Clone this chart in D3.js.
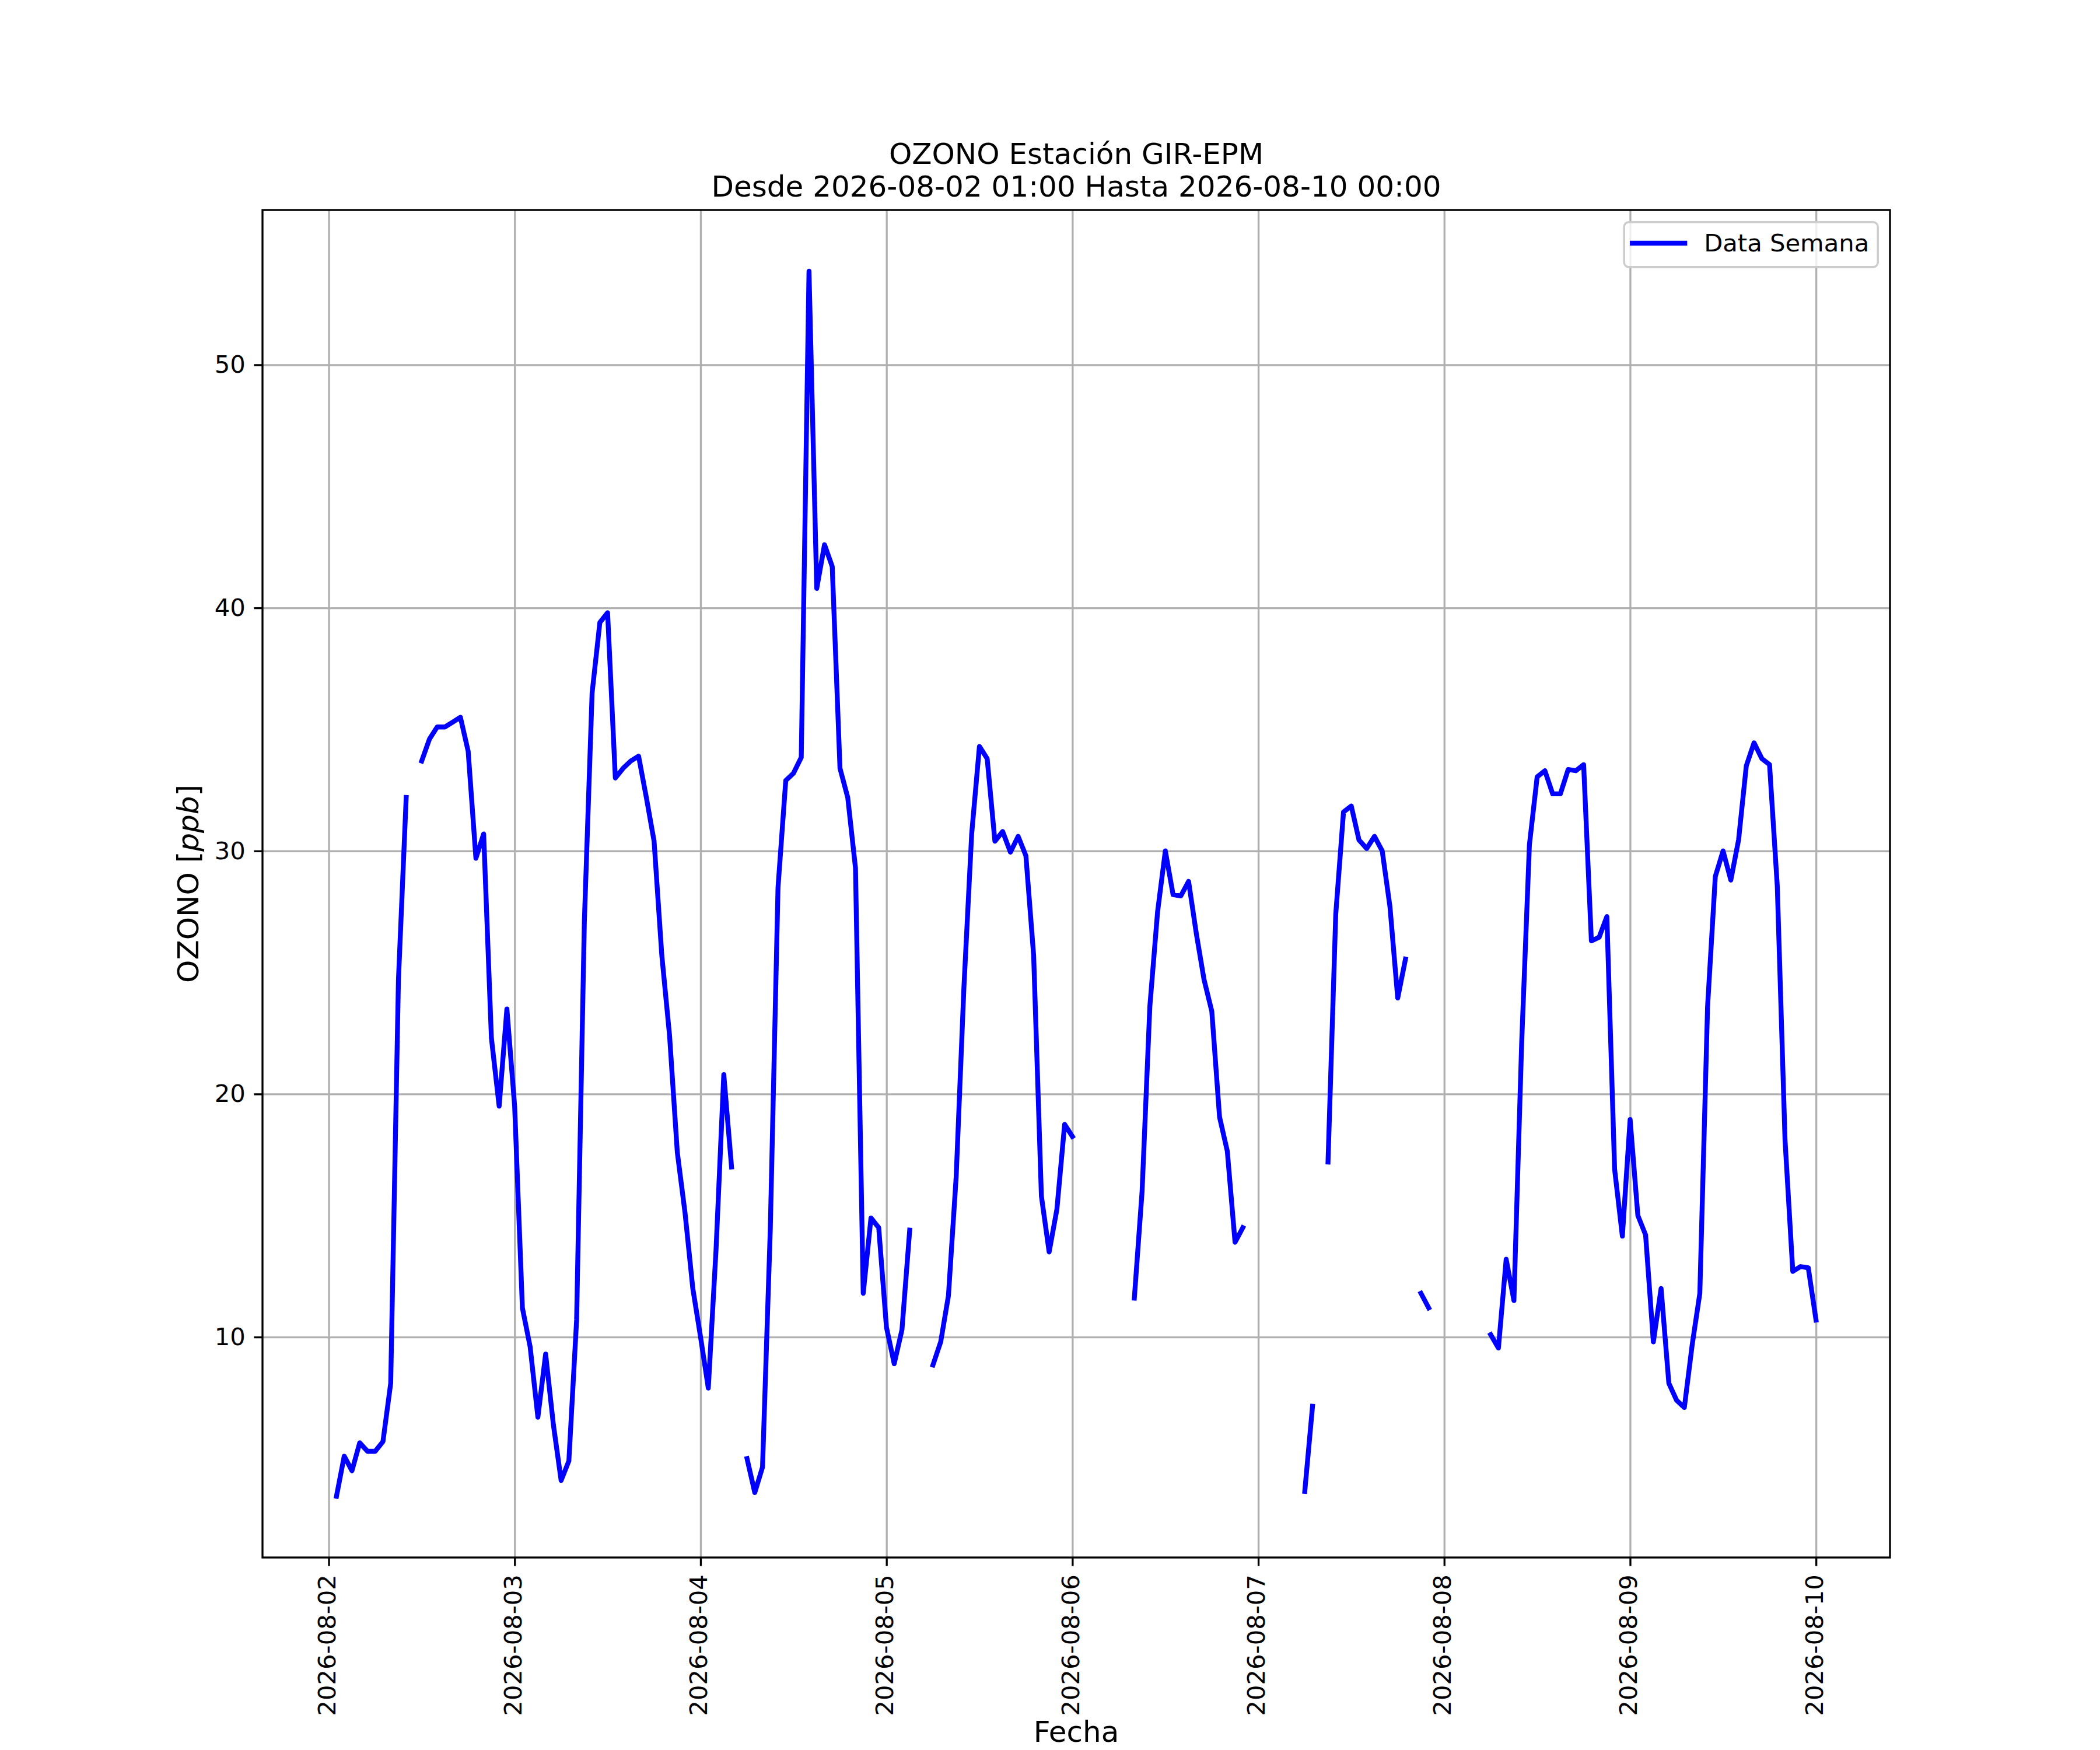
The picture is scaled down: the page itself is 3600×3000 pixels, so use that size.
<!DOCTYPE html>
<html>
<head>
  <meta charset="utf-8">
  <title>OZONO Estación GIR-EPM</title>
  <style>
  body {
    margin: 0;
    background: #fff;
  }
  svg text {
    font-family: "DejaVu Sans", sans-serif;
    fill: #000;
  }
  .grid line {
    stroke: #b0b0b0;
    stroke-width: 3.33px;
  }
  .grid path {
    display: none;
  }
  .line {
    fill: none;
    stroke: #0000ff;
    stroke-width: 8.33px;
    stroke-linejoin: round;
    stroke-linecap: square;
  }
  .axis path {
    display: none;
  }
  .axis line {
    stroke: #000;
    stroke-width: 3.33px;
  }
  .axis text {
    font-size: 41.7px;
  }
  .spine {
    fill: none;
    stroke: #000;
    stroke-width: 3.33px;
  }
  </style>
</head>
<body>
  <div id="chart"></div>
  <script src="https://cdn.jsdelivr.net/npm/d3@7/dist/d3.min.js"></script>
  <script>
  //hourly readings, first one at 2026-08-02 01:00, null = no data
  var startHour = new Date(2026, 7, 2, 1);
  var ozono = [
    3.45, 5.1, 4.5, 5.65, 5.3, 5.3, 5.7, 8.1, 24.7, 32.2, null, 33.7, 34.6, 35.1, 35.1, 35.3, 35.5, 34.1, 29.7, 30.7, 22.3, 19.5, 23.5, 19.5,
    11.2, 9.6, 6.7, 9.3, 6.4, 4.1, 4.9, 10.7, 27.1, 36.5, 39.4, 39.8, 33.0, 33.4, 33.7, 33.9, 32.2, 30.4, 25.7, 22.4, 17.6, 15.1, 12.0, 10.0,
    7.9, 13.6, 20.8, 17.0, null, 5.0, 3.6, 4.65, 14.4, 28.5, 32.9, 33.2, 33.85, 53.85, 40.8, 42.6, 41.7, 33.4, 32.2, 29.3, 11.8, 14.9, 14.5, 10.4,
    8.9, 10.3, 14.4, null, null, 8.85, 9.8, 11.7, 16.6, 24.4, 30.7, 34.3, 33.8, 30.4, 30.8, 29.95, 30.6, 29.8, 25.7, 15.8, 13.5, 15.25, 18.75, 18.25,
    null, null, null, null, null, null, null, 11.6, 16.0, 23.6, 27.5, 30.0, 28.2, 28.15, 28.75, 26.6, 24.7, 23.4, 19.05, 17.65, 13.9, 14.5, null, null,
    null, null, null, null, null, 3.65, 7.15, null, 17.2, 27.4, 31.6, 31.85, 30.45, 30.1, 30.6, 30.0, 27.7, 23.95, 25.55, null, 11.8, 11.2, null, null,
    null, null, null, null, null, 10.1, 9.55, 13.2, 11.5, 22.1, 30.25, 33.05, 33.3, 32.35, 32.35, 33.35, 33.3, 33.55, 26.3, 26.45, 27.3, 16.9, 14.15, 18.95,
    15.0, 14.2, 9.8, 12.0, 8.1, 7.4, 7.1, 9.65, 11.8, 23.6, 28.95, 30.0, 28.8, 30.45, 33.5, 34.45, 33.8, 33.55, 28.55, 18.1, 12.7, 12.9, 12.85, 10.7
  ];
  var xTickLabels = ["2026-08-02", "2026-08-03", "2026-08-04", "2026-08-05", "2026-08-06",
    "2026-08-07", "2026-08-08", "2026-08-09", "2026-08-10"];
  var yTicks = [10, 20, 30, 40, 50];
  var seriesName = "Data Semana";

  //figure and axes box (matplotlib style, 300 dpi)
  var figW = 3600, figH = 3000;
  var margin = {left: 450, right: 360, top: 360, bottom: 330};
  var width = figW - margin.left - margin.right;
  var height = figH - margin.top - margin.bottom;
  var tickLen = 14.6, tickPad = 14.6;

  var parseDay = d3.timeParse("%Y-%m-%d");
  var fmtDay = d3.timeFormat("%Y-%m-%d");

  var dataset = ozono.map(function(v, i) {
    return {date: d3.timeHour.offset(startHour, i), value: v};
  });

  var svg = d3.select("#chart")
  .append("svg")
  .attr("width", figW)
  .attr("height", figH);

  var g = svg.append("g")
  .attr("transform", "translate(" + margin.left + "," + margin.top + ")");

  //scales with 5% padding like matplotlib autoscale
  var tExt = d3.extent(dataset, function(d) { return d.date; });
  var tPad = (tExt[1] - tExt[0]) * 0.05;
  var x = d3.scaleTime()
  .domain([new Date(+tExt[0] - tPad), new Date(+tExt[1] + tPad)])
  .range([0, width]);

  var vExt = d3.extent(ozono.filter(function(v) { return v != null; }));
  var vPad = (vExt[1] - vExt[0]) * 0.05;
  var y = d3.scaleLinear()
  .domain([vExt[0] - vPad, vExt[1] + vPad])
  .range([height, 0]);

  var xTicks = xTickLabels.map(parseDay);

  //grid
  g.append("g")
  .attr("class", "grid")
  .attr("transform", "translate(0," + height + ")")
  .call(d3.axisBottom(x).tickValues(xTicks).tickSize(-height).tickFormat(""));

  g.append("g")
  .attr("class", "grid")
  .call(d3.axisLeft(y).tickValues(yTicks).tickSize(-width).tickFormat(""));

  //line with gaps where the station had no data
  var line = d3.line()
  .defined(function(d) { return d.value != null; })
  .x(function(d) { return x(d.date); })
  .y(function(d) { return y(d.value); });

  g.append("path")
  .datum(dataset)
  .attr("class", "line")
  .attr("d", line);

  //axes box
  g.append("rect")
  .attr("class", "spine")
  .attr("width", width)
  .attr("height", height);

  //x axis, labels turned 90 degrees
  var xAxis = g.append("g")
  .attr("class", "axis")
  .attr("transform", "translate(0," + height + ")")
  .call(d3.axisBottom(x).tickValues(xTicks).tickFormat(fmtDay).tickSize(tickLen).tickPadding(tickPad));

  xAxis.selectAll("text")
  .attr("transform", "rotate(-90)")
  .attr("text-anchor", "end")
  .attr("x", -(tickLen + tickPad))
  .attr("y", 0)
  .attr("dy", "0.26em");

  //y axis
  g.append("g")
  .attr("class", "axis")
  .call(d3.axisLeft(y).tickValues(yTicks).tickFormat(d3.format("d")).tickSize(tickLen).tickPadding(tickPad));

  //title
  var title = svg.append("text")
  .attr("text-anchor", "middle")
  .style("font-size", "50px");
  title.append("tspan")
  .attr("x", margin.left + width / 2)
  .attr("y", 281)
  .text("OZONO Estación GIR-EPM");
  title.append("tspan")
  .attr("x", margin.left + width / 2)
  .attr("y", 337)
  .text("Desde 2026-08-02 01:00 Hasta 2026-08-10 00:00");

  //axis labels
  svg.append("text")
  .attr("x", margin.left + width / 2)
  .attr("y", 2986)
  .attr("text-anchor", "middle")
  .style("font-size", "50px")
  .text("Fecha");

  var ylab = svg.append("text")
  .attr("transform", "translate(340," + (margin.top + height / 2) + ") rotate(-90)")
  .attr("text-anchor", "middle")
  .style("font-size", "50px");
  ylab.append("tspan").text("OZONO [");
  ylab.append("tspan").style("font-style", "italic").text("ppb");
  ylab.append("tspan").text("]");

  //legend, upper right
  var legend = svg.append("g")
  .attr("transform", "translate(" + (margin.left + width - 20.8 - 435) + "," + (margin.top + 20.8) + ")");

  legend.append("rect")
  .attr("width", 435)
  .attr("height", 77)
  .attr("rx", 8)
  .attr("fill", "#fff")
  .attr("fill-opacity", 0.8)
  .attr("stroke", "#cccccc")
  .attr("stroke-width", 3.5);

  legend.append("line")
  .attr("x1", 14)
  .attr("x2", 104)
  .attr("y1", 36)
  .attr("y2", 36)
  .attr("stroke", "#0000ff")
  .attr("stroke-width", 8.33)
  .attr("stroke-linecap", "square");

  legend.append("text")
  .attr("x", 137)
  .attr("y", 50)
  .style("font-size", "41.7px")
  .text(seriesName);
  </script>
</body>
</html>
